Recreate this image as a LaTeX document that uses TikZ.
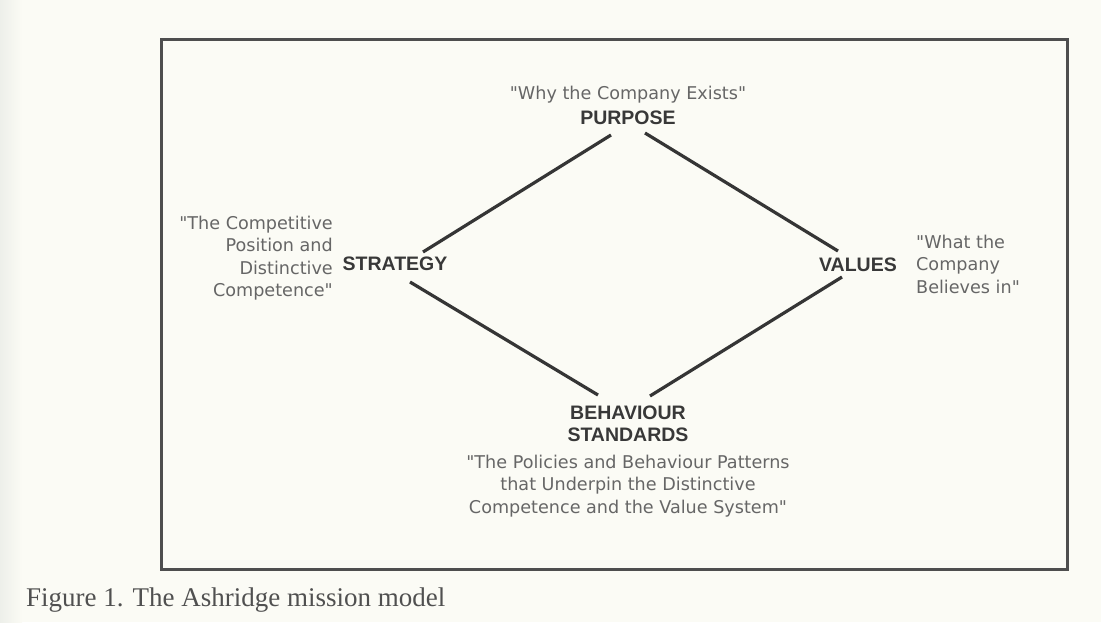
\documentclass[tikz,border=0pt]{standalone}
\usepackage{fontspec}
\setmainfont{Liberation Serif}
\newfontfamily\regfont{DejaVu Sans}
\newfontfamily\hvfont{Liberation Sans}
\usetikzlibrary{calc}
\definecolor{bg}{HTML}{FBFBF5}
\definecolor{edgetint}{HTML}{EDEFEA}
\definecolor{quotegray}{HTML}{666666}
\definecolor{boldgray}{HTML}{383838}
\definecolor{linegray}{HTML}{353535}
\definecolor{framegray}{HTML}{4E4E4E}
\definecolor{capgray}{HTML}{505050}
\begin{document}
\begin{tikzpicture}[x=1pt,y=-1pt,
  quotetext/.style={inner sep=0pt, text=quotegray, font=\regfont\fontsize{17.6}{22.5}\selectfont},
  boldlabel/.style={inner sep=0pt, text=boldgray, font=\hvfont\bfseries\fontsize{19.5}{22}\selectfont},
  edge/.style={draw=linegray, line width=3.2pt},
  frame/.style={draw=framegray, line width=3pt},
  captiontext/.style={inner sep=0pt, text=capgray, font=\fontsize{27}{31}\selectfont}]
\useasboundingbox (0,0) rectangle (1101,622);
\fill[bg] (0,0) rectangle (1101,622);
\shade[left color=edgetint, right color=bg] (0,0) rectangle (22,622);
\draw[frame] (161,39) rectangle (1067,569);

\node[quotetext] (purposeq) at (628,95) {"Why the Company Exists"};
\node[boldlabel] (purpose) at (628,118) {PURPOSE};
\node[boldlabel] (strategy) at (395,264) {STRATEGY};
\node[quotetext, align=right, anchor=east] (strategyq) at (333,258) {"The Competitive\\Position and\\Distinctive\\Competence"};
\node[boldlabel] (values) at (858,265) {VALUES};
\node[quotetext, align=left, anchor=west] (valuesq) at (916,264) {"What the\\Company\\Believes in"};
\node[boldlabel, align=center] (behaviour) at (628,424) {BEHAVIOUR\\STANDARDS};
\node[quotetext, align=center] (behaviourq) at (628,486) {"The Policies and Behaviour Patterns\\that Underpin the Distinctive\\Competence and the Value System"};
\node[captiontext, anchor=west] (caption) at (26,600) {Figure 1. The Ashridge mission model};

\draw[edge] ($(strategy.center)+(28,-12)$) -- ($(purpose.center)+(-17,17)$);
\draw[edge] ($(purpose.center)+(17,15)$) -- ($(values.center)+(-20,-14)$);
\draw[edge] ($(strategy.center)+(15,18)$) -- ($(behaviour.center)+(-30,-29)$);
\draw[edge] ($(values.center)+(-16,12)$) -- ($(behaviour.center)+(22,-28)$);
\end{tikzpicture}
\end{document}
